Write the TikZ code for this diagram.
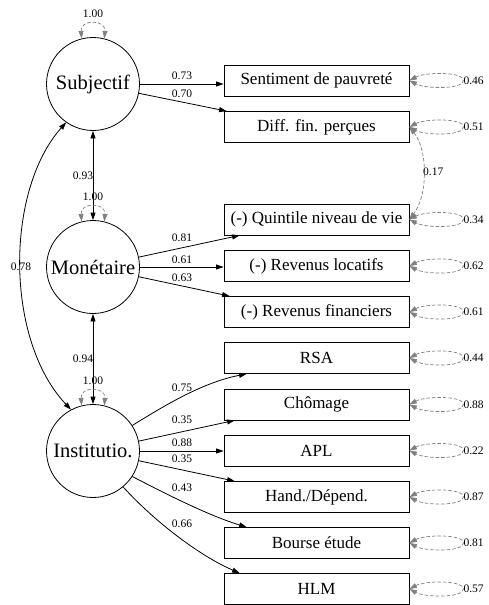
\documentclass[tikz,border=0pt]{standalone}
\usepackage{fontspec}
\setmainfont{Liberation Serif}
\usetikzlibrary{arrows.meta,calc}
\begin{document}
\begin{tikzpicture}[x=1pt,y=-1pt,
  every node/.style={font=\rmfamily},
  lat/.style={circle,draw,line width=0.8pt,minimum size=93pt,inner sep=0pt,font=\rmfamily\fontsize{20.5}{22}\selectfont},
  obs/.style={draw,line width=0.8pt,minimum width=185pt,minimum height=31pt,inner sep=0pt,font=\rmfamily\fontsize{17}{19}\selectfont},
  lbl/.style={font=\rmfamily\fontsize{11.5}{13}\selectfont,inner sep=0pt},
  tip/.tip={Triangle[length=7.5pt,width=5pt]},
  load/.style={-tip,line width=0.8pt},
  cov/.style={tip-tip,line width=0.8pt},
  res/.style={tip-tip,gray,dash pattern=on 3.5pt off 2pt,line width=0.7pt},
]
\useasboundingbox (0,0) rectangle (488,605);

% latent variables
\node[lat] (sub)  at (93,84)  {Subjectif};
\node[lat] (mon)  at (93,267) {Monétaire};
\node[lat] (inst) at (93,451) {Institutio.};

% observed variables
\node[obs] (sent) at (316.5,80.5) {Sentiment de pauvreté};
\node[obs] (diff) at (316.5,127)  {Diff. fin. perçues};
\node[obs] (quin) at (316.5,219.5){(-) Quintile niveau de vie};
\node[obs] (rloc) at (316.5,266)  {(-) Revenus locatifs};
\node[obs] (rfin) at (316.5,312)  {(-) Revenus financiers};
\node[obs] (rsa)  at (316.5,358)  {RSA};
\node[obs] (cho)  at (316.5,404.5){Chômage};
\node[obs] (apl)  at (316.5,450.5){APL};
\node[obs] (hand) at (316.5,497)  {Hand./Dépend.};
\node[obs] (bour) at (316.5,543)  {Bourse étude};
\node[obs] (hlm)  at (316.5,589)  {HLM};

% loadings
\draw[load] (sub.east) -- (sub.east -| sent.west);
\node[lbl] (l1) at (182,76) {0.73};
\draw[load] (sub) -- ($(diff.north west)+(3,0)$);
\node[lbl] (l2) at (182,94) {0.70};

\draw[load] (mon) -- ($(quin.south west)+(16,0)$);
\node[lbl] (l3) at (182,238) {0.81};
\draw[load] (mon.east) -- (mon.east -| rloc.west);
\node[lbl] (l4) at (182,260) {0.61};
\draw[load] (mon) -- ($(rfin.north west)+(6,0)$);
\node[lbl] (l5) at (182,278) {0.63};

\draw[load] (inst.33) .. controls (170,402) and (205,382) .. ($(rsa.south west)+(23,0)$);
\node[lbl] (l6) at (182,388) {0.75};
\draw[load] (inst) -- ($(cho.south west)+(11,0)$);
\node[lbl] (l7) at (182,420) {0.35};
\draw[load] (inst.east) -- (inst.east -| apl.west);
\node[lbl] (l8) at (182,443) {0.88};
\draw[load] (inst) -- ($(hand.north west)+(11,0)$);
\node[lbl] (l9) at (182,459) {0.35};
\draw[load] (inst.-33) .. controls (170,496) and (210,516) .. ($(bour.north west)+(23,0)$);
\node[lbl] (l10) at (182,488) {0.43};
\draw[load] (inst.-50) .. controls (155,522) and (200,556) .. ($(hlm.north west)+(16,0)$);
\node[lbl] (l11) at (182,524) {0.66};

% latent covariances
\draw[cov] (sub.south) -- (mon.north);
\node[lbl] (c1) at (83,176) {0.93};
\draw[cov] (mon.south) -- (inst.north);
\node[lbl] (c2) at (83,359) {0.94};
\draw[cov] (inst.118) .. controls (5,340) and (5,191) .. (sub.-125);
\node[lbl] (c3) at (21,267) {0.78};

% latent variances
\foreach \n in {sub,mon,inst}{
  \draw[res] (\n.104) .. controls ($(\n.north)+(-13,-18)$) and ($(\n.north)+(13,-18)$) .. (\n.76);
  \node[lbl] (v\n) at ($(\n.north)+(0,-23)$) {1.00};
}

% residual variances
\foreach \n/\v in {sent/0.46,diff/0.51,quin/0.34,rloc/0.62,rfin/0.61,rsa/0.44,cho/0.88,apl/0.22,hand/0.87,bour/0.81,hlm/0.57}{
  \draw[res] (\n.east) .. controls ($(\n.east)+(16,-8.5)$) and ($(\n.east)+(54,-9)$) .. ($(\n.east)+(54,0)$)
     .. controls ($(\n.east)+(54,9)$) and ($(\n.east)+(16,8.5)$) .. (\n.east);
  \node[lbl,anchor=west] (r\n) at ($(\n.east)+(54,0)$) {\v};
}

% residual covariance
\draw[res] (diff.east) .. controls (428,150) and (428,195) .. (quin.east);
\node[lbl,anchor=west] (rc) at (423,172) {0.17};
\end{tikzpicture}
\end{document}
